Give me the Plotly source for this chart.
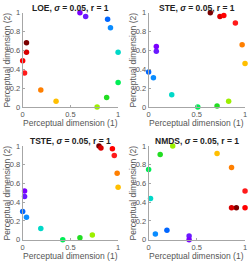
import plotly.graph_objects as go

colors = ["#7a0000", "#d80000", "#ff0000", "#ff1a1a", "#ff7f00", "#ffbf00",
          "#9cf000", "#22dd22", "#00ee55", "#00d8c8", "#0a8cff", "#0066ff",
          "#6a1aff", "#7a00ff"]

loe_x = [0.04, 0.04, 0.00, 0.02, 0.19, 0.35, 0.78, 0.88, 1.00, 1.00, 0.92, 0.89, 0.66, 0.60]
loe_y = [0.68, 0.58, 0.49, 0.36, 0.18, 0.06, 0.00, 0.10, 0.26, 0.58, 0.84, 0.93, 0.96, 1.00]

ste_x = [0.64, 0.74, 0.78, 0.90, 0.97, 1.00, 0.83, 0.71, 0.51, 0.24, 0.05, 0.00, 0.08, 0.08]
ste_y = [1.00, 0.96, 0.97, 0.89, 0.66, 0.46, 0.06, 0.01, 0.00, 0.13, 0.31, 0.37, 0.59, 0.64]

tste_x = [0.80, 0.82, 0.94, 0.96, 0.99, 1.00, 0.73, 0.60, 0.42, 0.19, 0.04, 0.00, 0.02, 0.02]
tste_y = [1.00, 0.98, 0.97, 0.90, 0.71, 0.56, 0.05, 0.02, 0.00, 0.12, 0.24, 0.30, 0.46, 0.52]

nmds_x = [0.91, 0.86, 1.00, 1.00, 0.86, 0.71, 0.25, 0.12, 0.00, 0.02, 0.07, 0.19, 0.42, 0.42]
nmds_y = [0.34, 0.34, 0.34, 0.52, 0.77, 0.92, 1.00, 0.91, 0.75, 0.44, 0.06, 0.10, 0.04, 0.00]

titles = ["LOE", "STE", "TSTE", "NMDS"]
xtick_vals = [0, 0.5, 1]
xtick_text = ["0", "0.5", "1"]
ytick_vals = [0, 0.2, 0.4, 0.6, 0.8, 1]
ytick_text = ["0", "0.2", "0.4", "0.6", "0.8", "1"]
xlabel = "Perceptual dimension (1)"
ylabel = "Perceptual dimension (2)"

data = [(loe_x, loe_y), (ste_x, ste_y), (tste_x, tste_y), (nmds_x, nmds_y)]

W, H = 249, 265
xdoms = [(21 / W, 118 / W), (149 / W, 247 / W)]
ydoms = [(1 - 106.5 / H, 1 - 9 / H), (1 - 244 / H, 1 - 147 / H)]

fig = go.Figure()
font_fam = "Liberation Sans, Arial, sans-serif"
axis_col = "#a6a6a6"
text_col = "#555555"

for i, ((xs, ys), t) in enumerate(zip(data, titles)):
    n = i + 1
    xa = "x" if n == 1 else f"x{n}"
    ya = "y" if n == 1 else f"y{n}"
    fig.add_trace(go.Scatter(
        x=xs, y=ys, mode="markers", xaxis=xa, yaxis=ya,
        marker=dict(color=colors, size=5.5, line=dict(width=0)),
        cliponaxis=False, showlegend=False, hoverinfo="skip"))
    xd = xdoms[i % 2]
    yd = ydoms[i // 2]
    common = dict(range=[0, 1], showgrid=False, zeroline=False, showline=True,
                  linecolor=axis_col, linewidth=1, ticks="inside", ticklen=2,
                  tickcolor=axis_col, tickfont=dict(size=7.5, color=text_col, family=font_fam),
                  fixedrange=True)
    fig.layout[f"xaxis{'' if n == 1 else n}"] = dict(
        common, domain=list(xd), anchor=ya, tickvals=xtick_vals, ticktext=xtick_text)
    fig.layout[f"yaxis{'' if n == 1 else n}"] = dict(
        common, domain=list(yd), anchor=xa, tickvals=ytick_vals, ticktext=ytick_text)
    # subplot title
    fig.add_annotation(
        x=(xd[0] + xd[1]) / 2, y=yd[1], xref="paper", yref="paper",
        text=f"<b>{t}, <i>σ</i> = 0.05, r = 1</b>", showarrow=False,
        xanchor="center", yanchor="middle", yshift=5,
        font=dict(size=8.5, color="#222222", family=font_fam))
    # x axis title
    fig.add_annotation(
        x=(xd[0] + xd[1]) / 2, y=yd[0], xref="paper", yref="paper",
        text=xlabel, showarrow=False, xanchor="center", yanchor="middle", yshift=-16.5,
        font=dict(size=8.5, color=text_col, family=font_fam))
    # y axis title
    fig.add_annotation(
        x=xd[0], y=(yd[0] + yd[1]) / 2, xref="paper", yref="paper",
        text=ylabel, showarrow=False, textangle=-90, xanchor="center", yanchor="middle",
        xshift=-16, font=dict(size=8.5, color=text_col, family=font_fam))

fig.update_layout(width=W, height=H, margin=dict(l=0, r=0, t=0, b=0),
                  paper_bgcolor="white", plot_bgcolor="white")
fig.write_html("out.html", config={"displayModeBar": False},
               post_script="document.body.style.margin='0';")
